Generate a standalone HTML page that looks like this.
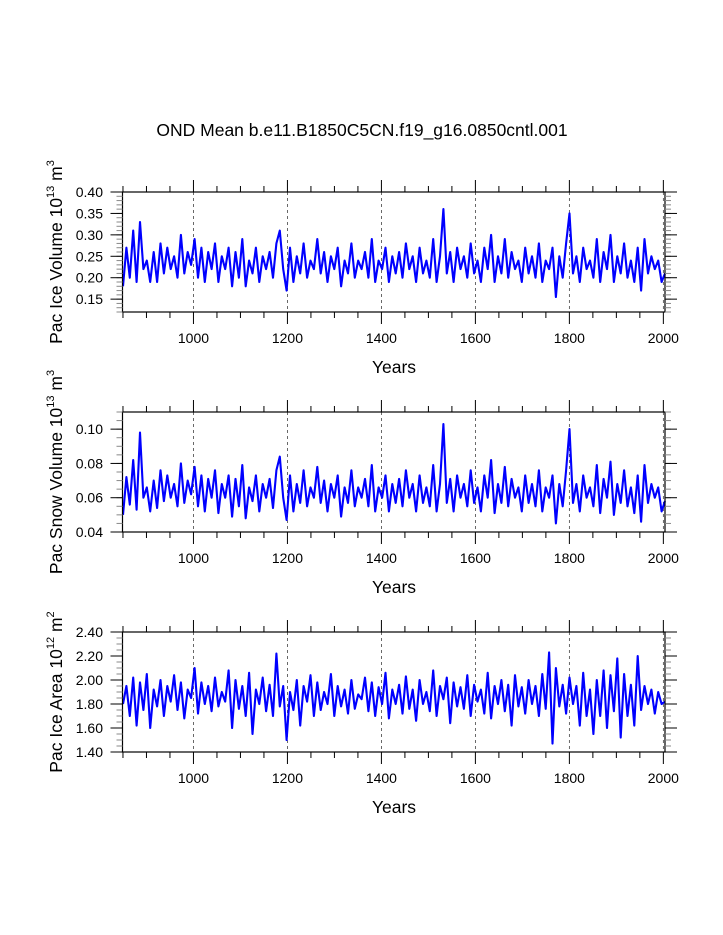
<!DOCTYPE html>
<html><head><meta charset="utf-8"><style>
html,body{margin:0;padding:0;background:#fff;}
svg{display:block;font-family:"Liberation Sans",Arial,sans-serif;}
</style></head><body>
<svg id="chart" width="723" height="935" viewBox="0 0 723 935">
<text x="362" y="136" font-size="17.5" text-anchor="middle">OND Mean b.e11.B1850C5CN.f19_g16.0850cntl.001</text>
</svg>
<script>
const startYear = 849;
const endYear = 2003.5;
const xTicks = [1000, 1200, 1400, 1600, 1800, 2000];
const iceVolume = [.18,.27,.20,.31,.19,.33,.22,.24,.19,.26,.19,.28,.21,.27,.22,.25,.20,.30,.21,.26,.23,.29,.20,.27,.19,.26,.22,.28,.19,.25,.22,.27,.18,.26,.20,.29,.18,.24,.21,.27,.19,.25,.22,.26,.20,.28,.31,.22,.17,.27,.19,.25,.21,.28,.20,.24,.22,.29,.21,.26,.19,.25,.22,.27,.18,.24,.21,.28,.20,.24,.22,.26,.20,.29,.19,.24,.22,.27,.19,.25,.21,.26,.20,.28,.22,.25,.19,.27,.21,.24,.20,.29,.19,.25,.36,.21,.26,.19,.27,.22,.25,.20,.28,.21,.24,.19,.27,.22,.30,.19,.25,.21,.29,.20,.26,.22,.24,.19,.27,.21,.25,.20,.28,.19,.24,.22,.27,.155,.25,.20,.28,.35,.21,.25,.19,.27,.22,.24,.20,.29,.19,.26,.22,.30,.19,.25,.21,.28,.20,.24,.19,.27,.17,.29,.21,.25,.22,.24,.19,.21];
const snowVolume = [.050,.072,.056,.082,.053,.098,.060,.066,.052,.070,.054,.076,.058,.073,.060,.068,.055,.080,.057,.070,.062,.078,.055,.073,.052,.071,.060,.076,.051,.068,.060,.073,.049,.071,.055,.079,.048,.066,.058,.073,.052,.068,.060,.071,.054,.076,.084,.060,.047,.073,.052,.068,.057,.076,.055,.066,.060,.078,.057,.070,.052,.068,.060,.073,.049,.066,.057,.076,.055,.066,.060,.071,.055,.079,.052,.066,.060,.073,.052,.068,.057,.071,.055,.076,.060,.068,.052,.073,.057,.066,.055,.079,.052,.068,.103,.057,.071,.052,.073,.060,.068,.055,.076,.057,.066,.052,.073,.060,.082,.051,.068,.057,.078,.055,.071,.060,.066,.052,.073,.057,.068,.055,.076,.052,.066,.060,.073,.045,.068,.055,.076,.100,.057,.068,.052,.073,.060,.066,.055,.079,.051,.071,.060,.081,.050,.068,.057,.076,.055,.066,.051,.073,.046,.079,.057,.068,.060,.066,.052,.058];
const iceArea = [1.80,1.95,1.70,2.02,1.62,1.98,1.75,2.05,1.60,1.92,1.78,2.00,1.70,1.95,1.82,2.04,1.75,1.98,1.68,1.92,1.85,2.10,1.72,1.98,1.80,1.95,1.74,2.02,1.78,1.90,1.82,2.08,1.60,2.00,1.76,1.95,1.70,2.06,1.55,1.92,1.80,2.02,1.74,1.96,1.70,2.22,1.78,1.95,1.50,1.90,1.75,2.00,1.62,1.95,1.82,2.04,1.70,1.98,1.75,1.90,1.80,2.05,1.70,1.95,1.78,1.92,1.72,2.00,1.76,1.88,1.84,2.02,1.74,1.98,1.70,1.94,1.80,2.06,1.68,1.92,1.80,1.96,1.72,2.03,1.76,1.92,1.66,2.00,1.80,1.90,1.74,2.08,1.70,1.95,1.84,2.02,1.64,1.98,1.78,1.94,1.76,2.04,1.70,1.96,1.82,1.92,1.72,2.06,1.68,1.95,1.80,2.00,1.74,1.96,1.62,2.04,1.78,1.94,1.72,2.00,1.80,1.95,1.70,2.05,1.76,2.23,1.47,2.10,1.78,1.96,1.72,2.02,1.80,1.95,1.62,2.06,1.70,1.92,1.55,2.00,1.70,2.08,1.60,2.04,1.74,2.18,1.52,2.05,1.70,1.96,1.62,2.20,1.75,1.95,1.80,1.92,1.72,1.90,1.80,1.82];
const ticks1 = [0.15,0.20,0.25,0.30,0.35,0.40];
const ticks2 = [0.04,0.06,0.08,0.10];
const ticks3 = [1.40,1.60,1.80,2.00,2.20,2.40];

const NS = 'http://www.w3.org/2000/svg';
const svg = document.getElementById('chart');
function mk(tag, attrs, parent){const e=document.createElementNS(NS,tag);for(const k in attrs)e.setAttribute(k,attrs[k]);(parent||svg).appendChild(e);return e;}

const L = 122.5, R = 665;
function xs(y){return L + (y - startYear)/(endYear - startYear)*(R - L);}

const panels = [
 {name:'ice-volume', data:iceVolume, ticks:ticks1, ymin:0.12, ymax:0.40, top:192, bot:312, dec:2, minor:0.01, lab:['Pac Ice Volume 10','13',' m','3']},
 {name:'snow-volume', data:snowVolume, ticks:ticks2, ymin:0.04, ymax:0.110, top:412, bot:532, dec:2, minor:0.005, lab:['Pac Snow Volume 10','13',' m','3']},
 {name:'ice-area', data:iceArea, ticks:ticks3, ymin:1.40, ymax:2.40, top:632, bot:752, dec:2, minor:0.05, lab:['Pac Ice Area 10','12',' m','2']}
];

panels.forEach(p=>{
  const g = mk('g',{});
  
  
  const ys = v => p.bot - (v - p.ymin)/(p.ymax - p.ymin)*(p.bot - p.top);
  xTicks.forEach(t=>{
    const ln = mk('line',{x1:xs(t),x2:xs(t),y1:p.top,y2:p.bot,stroke:'#444','stroke-width':0.8,'stroke-dasharray':'3,3'},g);
    
    
  });
  const n = p.data.length;
  let d = '';
  p.data.forEach((v,i)=>{const yr = startYear + 1 + i*(endYear - startYear - 1)/(n-1); d += (i?'L':'M') + xs(yr).toFixed(1) + ',' + ys(v).toFixed(1);});
  const path = mk('path',{d:d,fill:'none',stroke:'#0000ff','stroke-width':2.1,'stroke-linejoin':'round'},g);
  
  
  const fr = mk('rect',{x:L,y:p.top,width:R-L,height:p.bot-p.top,fill:'none',stroke:'#000','stroke-width':1.2},g);
  
  
  for(let t=850;t<=2000;t+=50){
    const major = t % 200 === 0;
    const len = major ? 12 : 6;
    mk('line',{x1:xs(t),x2:xs(t),y1:p.bot,y2:p.bot+len,stroke:'#000','stroke-width':1},g);
    mk('line',{x1:xs(t),x2:xs(t),y1:p.top,y2:p.top-len,stroke:'#000','stroke-width':1},g);
  }
  xTicks.forEach(t=>{
    const tx = mk('text',{x:xs(t),y:p.bot+31,'font-size':14,'text-anchor':'middle'},g);
    tx.textContent = t;
    
    
  });
  const xt = mk('text',{x:394,y:p.bot+61,'font-size':17.5,'text-anchor':'middle'},g);
  xt.textContent = 'Years';
  
  
  const step = p.minor;
  for(let v=p.ymin; v<=p.ymax+1e-9; v+=step){
    const y = ys(v);
    mk('line',{x1:L,x2:L-6,y1:y,y2:y,stroke:'#888','stroke-width':1},g);
    mk('line',{x1:R,x2:R+6,y1:y,y2:y,stroke:'#888','stroke-width':1},g);
  }
  p.ticks.forEach(v=>{
    const y = ys(v);
    mk('line',{x1:L,x2:L-12,y1:y,y2:y,stroke:'#000','stroke-width':1},g);
    mk('line',{x1:R,x2:R+12,y1:y,y2:y,stroke:'#000','stroke-width':1},g);
    const tx = mk('text',{x:103,y:y+5,'font-size':14,'text-anchor':'end'},g);
    tx.textContent = v.toFixed(p.dec);
    
    
  });
  const cy = (p.top + p.bot)/2;
  const yt = mk('text',{x:0,y:0,'font-size':17.5,'text-anchor':'middle',transform:'translate(62,'+cy+') rotate(-90)'},g);
  
  
  const parts = p.lab;
  [[parts[0],0],[parts[1],1],[parts[2],0],[parts[3],1]].forEach(([s,sup],k)=>{
    const ts = mk('tspan',sup?{'font-size':11,dy:-8}:{dy:k===0?0:8},yt);
    ts.textContent = s;
  });
});
</script>
</body></html>
